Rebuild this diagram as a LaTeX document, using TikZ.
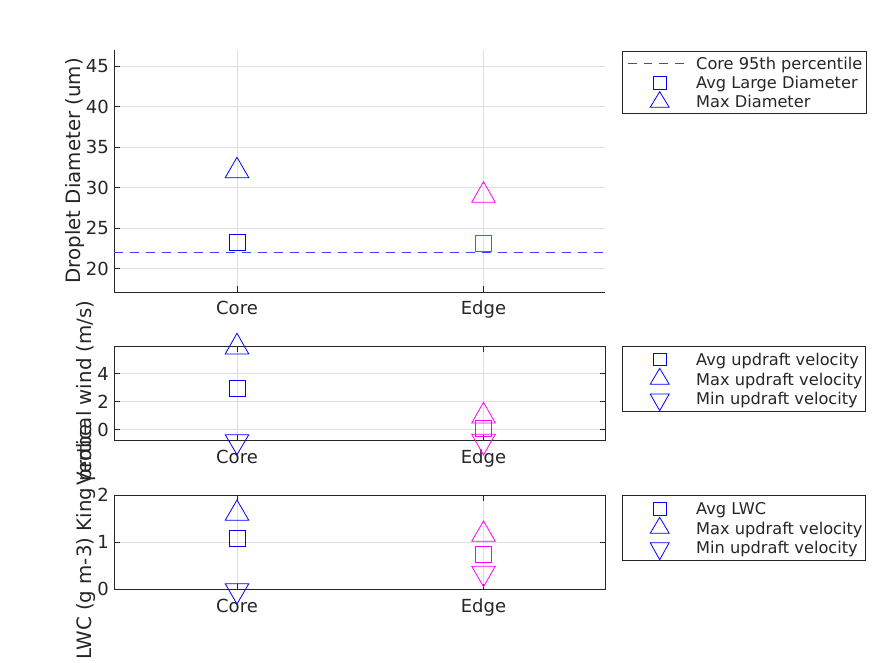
\documentclass[tikz,border=0pt]{standalone}
\usepackage{fontspec}
\setmainfont{DejaVu Sans}
\definecolor{axc}{RGB}{38,38,38}
\definecolor{gridc}{RGB}{223,223,223}
\definecolor{dashc}{RGB}{64,64,255}
\definecolor{mblue}{RGB}{0,0,255}
\definecolor{mmag}{RGB}{255,0,255}
\newcommand{\sqmark}[4]{\draw[mk,draw=#1] (#2-#4,#3-#4) rectangle (#2+#4,#3+#4);}
\newcommand{\trimark}[5]{\draw[mk,draw=#1] (#2,#3) -- (#2+#5,#4) -- (#2-#5,#4) -- cycle;}
\begin{document}
\begin{tikzpicture}[x=1pt,y=-1pt,
 axisline/.style={draw=axc,line width=0.9pt},
 gridline/.style={draw=gridc,line width=0.8pt},
 ticklab/.style={text=axc,font=\fontsize{18}{20}\selectfont,inner sep=0pt,text height=13.1pt,text depth=0pt},
 ylab/.style={text=axc,font=\fontsize{19.8}{22}\selectfont,inner sep=0pt,text height=14.4pt,text depth=0pt,rotate=90},
 legtext/.style={text=axc,font=\fontsize{16.2}{18}\selectfont,inner sep=0pt,text height=11.8pt,text depth=0pt,anchor=west},
 legbox/.style={draw=axc,fill=white,line width=0.9pt},
 mk/.style={line width=0.8pt},
 meanline/.style={draw=dashc,line width=0.9pt,dash pattern=on 9pt off 7pt}
]
\useasboundingbox[fill=white] (0,0) rectangle (884,663);

% ---------------- top axes ----------------
\foreach \yy in {268.7,228.2,187.7,147.2,106.7,66.2} {\draw[gridline] (114,\yy) -- (605,\yy);}
\foreach \xx in {237,483.5} {\draw[gridline] (\xx,50) -- (\xx,292);}
\draw[axisline] (114,50) -- (114,292) -- (605,292);
\foreach \yy in {268.7,228.2,187.7,147.2,106.7,66.2} {\draw[axisline] (114,\yy) -- (119.5,\yy);}
\foreach \xx in {237,483.5} {\draw[axisline] (\xx,292) -- (\xx,286.5);}
\node[ticklab,anchor=east] (ta20) at (109,268.7) {20};
\node[ticklab,anchor=east] (ta25) at (109,228.2) {25};
\node[ticklab,anchor=east] (ta30) at (109,187.7) {30};
\node[ticklab,anchor=east] (ta35) at (109,147.2) {35};
\node[ticklab,anchor=east] (ta40) at (109,106.7) {40};
\node[ticklab,anchor=east] (ta45) at (109,66.2) {45};
\node[ticklab] (taCore) at (237,308) {Core};
\node[ticklab] (taEdge) at (483.5,308) {Edge};
\node[ylab] (taylab) at (73,170.7) {Droplet Diameter (um)};
\draw[meanline] (114,252.3) -- (605,252.3);
\trimark{mblue}{237}{157.3}{177.7}{11.8}
\sqmark{mblue}{237}{242.3}{8}
\trimark{mmag}{483.5}{181.7}{202.3}{11.8}
\sqmark{mmag}{483.5}{243.2}{8}

% legend top
\draw[legbox] (622.3,51) rectangle (866.5,113.7);
\draw[meanline,dash pattern=on 8.5pt off 7.2pt] (628,63.5) -- (686,63.5);
\sqmark{mblue}{659.7}{82.8}{6.2}
\trimark{mblue}{659.7}{91.7}{107.3}{9.5}
\node[legtext] (l1a) at (696,63.5) {Core 95th percentile};
\node[legtext] (l1b) at (696,82.8) {Avg Large Diameter};
\node[legtext] (l1c) at (696,102.1) {Max Diameter};

% ---------------- middle axes ----------------
\foreach \yy in {429.5,401.5,373.5} {\draw[gridline] (114,\yy) -- (605,\yy);}
\foreach \xx in {237,483.5} {\draw[gridline] (\xx,346.5) -- (\xx,440);}
\draw[axisline] (114,346.5) rectangle (605,440);
\foreach \yy in {429.5,401.5,373.5} {\draw[axisline] (114,\yy) -- (119.5,\yy); \draw[axisline] (605,\yy) -- (599.5,\yy);}
\foreach \xx in {237,483.5} {\draw[axisline] (\xx,440) -- (\xx,434.5); \draw[axisline] (\xx,346.5) -- (\xx,352);}
\node[ticklab,anchor=east] (tb0) at (109,429.5) {0};
\node[ticklab,anchor=east] (tb2) at (109,401.5) {2};
\node[ticklab,anchor=east] (tb4) at (109,373.5) {4};
\node[ticklab] (tbCore) at (237,456.7) {Core};
\node[ticklab] (tbEdge) at (483.5,456.7) {Edge};
\node[ylab] (tbylab) at (84,393) {Vertical wind (m/s)};
\trimark{mblue}{237}{333.3}{354}{11.8}
\sqmark{mblue}{237}{388.3}{8}
\trimark{mblue}{237}{454.7}{434.7}{11.8}
\trimark{mmag}{483.5}{402.3}{423}{11.8}
\sqmark{mmag}{483.5}{428.3}{8}
\trimark{mmag}{483.5}{455}{434.3}{11.8}

% legend middle
\draw[legbox] (622.3,346) rectangle (865.7,411);
\sqmark{mblue}{659.7}{359.5}{6.2}
\trimark{mblue}{659.7}{368.3}{384.3}{9.5}
\trimark{mblue}{659.7}{410.7}{394}{9.5}
\node[legtext] (l2a) at (696,360) {Avg updraft velocity};
\node[legtext] (l2b) at (696,379.5) {Max updraft velocity};
\node[legtext] (l2c) at (696,399) {Min updraft velocity};

% ---------------- bottom axes ----------------
\foreach \yy in {589,542,495} {\draw[gridline] (114,\yy) -- (605,\yy);}
\foreach \xx in {237,483.5} {\draw[gridline] (\xx,495) -- (\xx,589);}
\draw[axisline] (114,495) rectangle (605,589);
\foreach \yy in {589,542,495} {\draw[axisline] (114,\yy) -- (119.5,\yy); \draw[axisline] (605,\yy) -- (599.5,\yy);}
\foreach \xx in {237,483.5} {\draw[axisline] (\xx,589) -- (\xx,583.5); \draw[axisline] (\xx,495) -- (\xx,500.5);}
\node[ticklab,anchor=east] (tc0) at (109,589) {0};
\node[ticklab,anchor=east] (tc1) at (109,542) {1};
\node[ticklab,anchor=east] (tc2) at (109,495) {2};
\node[ticklab] (tcCore) at (237,606) {Core};
\node[ticklab] (tcEdge) at (483.5,606) {Edge};
\node[ylab] (tcylab) at (84,542) {LWC (g m-3) King probe};
\trimark{mblue}{237}{500}{520.3}{11.8}
\sqmark{mblue}{237}{538.3}{8}
\trimark{mblue}{237}{604}{583.7}{11.8}
\trimark{mmag}{483.5}{521}{541.3}{11.8}
\sqmark{mmag}{483.5}{554.3}{8}
\trimark{mmag}{483.5}{586.7}{566.3}{11.8}

% legend bottom
\draw[legbox] (622.3,495.3) rectangle (865.7,560);
\sqmark{mblue}{659.7}{508.7}{6.2}
\trimark{mblue}{659.7}{517.3}{533.3}{9.5}
\trimark{mblue}{659.7}{559.7}{542.7}{9.5}
\node[legtext] (l3a) at (696,509) {Avg LWC};
\node[legtext] (l3b) at (696,528.5) {Max updraft velocity};
\node[legtext] (l3c) at (696,548) {Min updraft velocity};
\end{tikzpicture}
\end{document}
